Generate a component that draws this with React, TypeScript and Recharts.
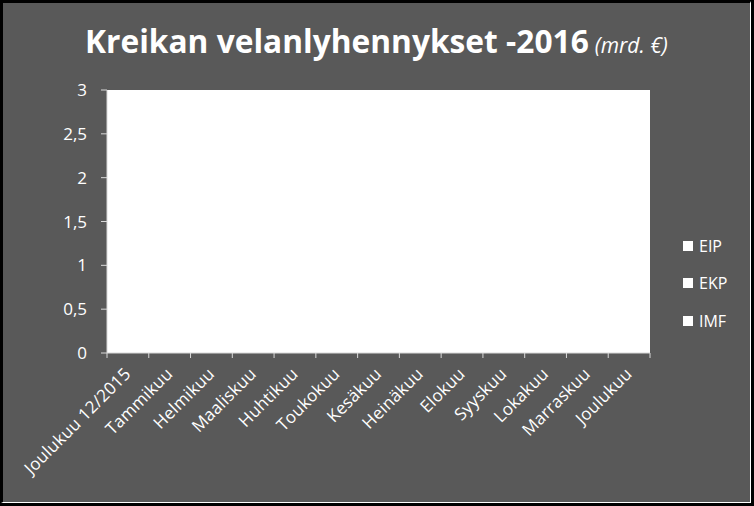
import { BarChart, Bar, XAxis, YAxis, CartesianGrid } from 'recharts';

const months = [
  'Joulukuu 12/2015',
  'Tammikuu',
  'Helmikuu',
  'Maaliskuu',
  'Huhtikuu',
  'Toukokuu',
  'Kesäkuu',
  'Heinäkuu',
  'Elokuu',
  'Syyskuu',
  'Lokakuu',
  'Marraskuu',
  'Joulukuu',
];

// no repayments shown in the chart, every month is empty
const eip = [0, 0, 0, 0, 0, 0, 0, 0, 0, 0, 0, 0, 0];
const ekp = [0, 0, 0, 0, 0, 0, 0, 0, 0, 0, 0, 0, 0];
const imf = [0, 0, 0, 0, 0, 0, 0, 0, 0, 0, 0, 0, 0];

const yTicks = [0, 0.5, 1, 1.5, 2, 2.5, 3];

const seriesNames = ['EIP', 'EKP', 'IMF'];

const data = months.map((m, i) => ({ month: m, EIP: eip[i], EKP: ekp[i], IMF: imf[i] }));

const BG = '#595959';
const TICK = '#d9d9d9';
const FONT = '"Open Sans", "DejaVu Sans", sans-serif';

// label rotated under the month, tick marks drawn on the band edges (excel style)
const MonthTick = ({ x, y, payload, width, visibleTicksCount, index }: any) => {
  const band = width / visibleTicksCount;
  const axisY = y - 7;
  const ax = x + 4;
  const ay = y + 15;
  return (
    <g>
      <line x1={x - band / 2} x2={x - band / 2} y1={axisY} y2={axisY + 5} stroke={TICK} />
      {index === visibleTicksCount - 1 && (
        <line x1={x + band / 2} x2={x + band / 2} y1={axisY} y2={axisY + 5} stroke={TICK} />
      )}
      <text
        x={ax}
        y={ay}
        textAnchor="end"
        fill="#ffffff"
        fontSize={17}
        letterSpacing={0.2}
        fontFamily={FONT}
        transform={`rotate(-45 ${ax} ${ay})`}
      >
        {payload.value}
      </text>
    </g>
  );
};

export default function App() {
  return (
    <div style={{ position: 'absolute', left: 0, top: 0, width: 754, height: 506, background: '#000' }}>
      <div
        style={{
          position: 'absolute',
          left: 1,
          top: 1,
          width: 750,
          height: 502,
          background: BG,
          borderRight: '1px solid #ffffff',
          borderBottom: '1px solid #ffffff',
          borderLeft: '2px solid #000',
          borderTop: '2px solid #000',
          boxSizing: 'border-box',
        }}
      />
      <div
        style={{
          position: 'absolute',
          left: 85,
          top: 21,
          whiteSpace: 'nowrap',
          color: '#ffffff',
          fontFamily: FONT,
          fontWeight: 'bold',
          fontSize: 31.7,
          lineHeight: '40px',
        }}
      >
        Kreikan velanlyhennykset -2016
        <span style={{ fontSize: 21, fontStyle: 'italic', fontWeight: 'normal', marginLeft: 6 }}>(mrd. €)</span>
      </div>
      <div style={{ position: 'absolute', left: 0, top: 0 }}>
        <BarChart
          width={754}
          height={506}
          data={data}
          margin={{ top: 90, right: 104, left: 0, bottom: 0 }}
          barCategoryGap="20%"
        >
          <CartesianGrid horizontal={false} vertical={false} fill="#ffffff" />
          <XAxis
            dataKey="month"
            height={153}
            interval={0}
            tick={<MonthTick />}
            tickLine={false}
            axisLine={{ stroke: TICK }}
            tickSize={5}
          />
          <YAxis
            width={107}
            domain={[0, 3]}
            ticks={yTicks}
            tickFormatter={(v: number) => String(v).replace('.', ',')}
            tick={{ fill: '#ffffff', fontSize: 17, fontFamily: FONT }}
            tickLine={{ stroke: TICK }}
            axisLine={{ stroke: TICK }}
            tickSize={6}
            tickMargin={14}
          />
          {seriesNames.map((name) => (
            <Bar key={name} dataKey={name} stackId="a" fill="#ffffff" isAnimationActive={false} />
          ))}
        </BarChart>
      </div>
      {seriesNames.map((name, i) => (
        <div
          key={name}
          style={{
            position: 'absolute',
            left: 683,
            top: 234.5 + i * 37.5,
            height: 22,
            display: 'flex',
            alignItems: 'center',
            color: '#ffffff',
            fontFamily: FONT,
            fontSize: 16,
          }}
        >
          <span style={{ display: 'inline-block', width: 10, height: 10, background: '#ffffff', marginRight: 6 }} />
          {name}
        </div>
      ))}
    </div>
  );
}
